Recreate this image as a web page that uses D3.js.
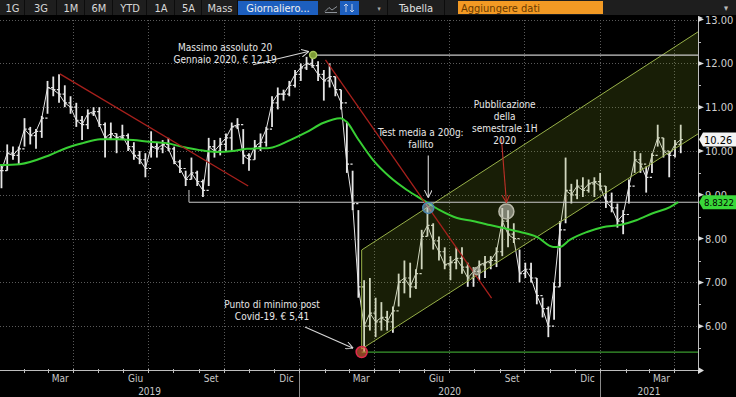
<!DOCTYPE html>
<html>
<head>
<meta charset="utf-8">
<script src="https://cdn.jsdelivr.net/npm/d3@7"></script>
<style>
  body { margin: 0; background: #000; overflow: hidden; }
  svg { display: block; font-family: "Liberation Sans Narrow", "DejaVu Sans Condensed", "Roboto Condensed", "Liberation Sans", sans-serif; }
</style>
</head>
<body>
<svg id="chart" width="736" height="397"></svg>
<script>
// weekly bars, first Friday of the series
const firstWeek = "2019-01-04";
const weekHi = [9.70, 10.15, 10.10, 10.10, 10.75, 10.55, 10.50, 10.80, 11.60, 11.70,
  11.75, 11.50, 11.25, 11.10, 10.80, 10.95, 11.00, 11.00, 10.65, 10.65,
  10.40, 10.60, 10.40, 10.20, 10.00, 9.95, 10.45, 10.20, 10.25, 10.30,
  10.10, 9.80, 9.55, 9.85, 9.55, 9.35, 10.30, 10.25, 10.30, 10.40,
  10.65, 10.75, 10.50, 9.95, 10.25, 10.40, 10.55, 11.25, 11.45, 11.40,
  11.60, 11.85, 12.00, 12.15, 12.19, 12.05, 11.85, 12.00, 11.70, 11.40,
  10.65, 9.55, 8.65, 7.05, 7.10, 6.65, 6.55, 6.35, 6.45, 7.20,
  7.50, 7.45, 7.30, 8.20, 8.72, 8.35, 8.05, 7.80, 7.60, 7.80,
  7.80, 7.45, 7.35, 7.50, 7.60, 7.60, 7.80, 8.70, 8.65, 8.35,
  7.75, 7.45, 7.45, 7.10, 6.65, 6.45, 7.00, 8.40, 9.85, 9.25,
  9.35, 9.40, 9.35, 9.40, 9.50, 9.20, 9.05, 8.80, 8.65, 9.35,
  10.00, 9.95, 9.65, 9.95, 10.60, 10.30, 10.00, 10.25, 10.60];
const weekLo = [9.15, 9.55, 9.80, 9.70, 10.10, 10.15, 10.05, 10.30, 10.85, 11.25,
  11.10, 11.00, 10.85, 10.55, 10.25, 10.50, 10.80, 10.55, 9.85, 10.25,
  9.95, 10.25, 10.00, 9.80, 9.70, 9.40, 9.85, 9.85, 9.95, 10.00,
  9.70, 9.50, 9.20, 9.35, 9.20, 8.95, 9.20, 9.85, 9.90, 10.00,
  10.00, 10.50, 9.70, 9.55, 9.80, 10.00, 10.10, 10.55, 10.95, 11.15,
  11.25, 11.45, 11.60, 11.85, 11.90, 11.60, 11.15, 11.45, 11.25, 10.95,
  9.50, 8.65, 6.65, 5.41, 5.90, 5.75, 5.90, 5.90, 5.85, 6.45,
  6.75, 6.65, 6.85, 7.30, 8.05, 7.75, 7.50, 7.30, 7.05, 7.30,
  7.20, 6.90, 6.90, 7.05, 7.10, 7.30, 7.35, 7.60, 7.80, 7.90,
  7.00, 7.10, 7.00, 6.50, 6.20, 5.75, 6.15, 6.90, 8.35, 8.80,
  8.90, 8.95, 9.05, 8.95, 9.10, 8.70, 8.60, 8.25, 8.10, 8.80,
  9.50, 9.50, 9.05, 9.50, 10.10, 9.85, 9.40, 9.85, 9.95];
const weekCl = [9.55, 9.95, 9.90, 10.05, 10.50, 10.35, 10.45, 10.75, 11.45, 11.40,
  11.30, 11.10, 11.00, 10.70, 10.60, 10.85, 10.90, 10.60, 10.30, 10.40,
  10.30, 10.35, 10.10, 9.90, 9.80, 9.60, 10.10, 10.05, 10.15, 10.05,
  9.75, 9.60, 9.35, 9.50, 9.30, 9.10, 10.10, 10.00, 10.15, 10.30,
  10.55, 10.60, 9.90, 9.80, 10.10, 10.20, 10.50, 11.10, 11.30, 11.30,
  11.50, 11.75, 11.90, 12.00, 11.95, 11.75, 11.60, 11.70, 11.40, 11.10,
  9.70, 8.80, 6.90, 6.00, 6.30, 6.10, 6.20, 6.10, 6.35, 7.00,
  7.10, 6.90, 7.20, 8.05, 8.30, 7.95, 7.70, 7.40, 7.45, 7.55,
  7.35, 7.10, 7.25, 7.40, 7.45, 7.50, 7.70, 8.40, 8.10, 8.00,
  7.20, 7.30, 7.10, 6.70, 6.40, 6.00, 6.90, 8.20, 9.10, 9.00,
  9.20, 9.10, 9.25, 9.30, 9.20, 8.85, 8.70, 8.40, 8.55, 9.20,
  9.80, 9.70, 9.40, 9.90, 10.30, 10.00, 9.90, 10.15, 10.26];

// 200 day moving average
const maDates = ["2019-01-02", "2019-01-26", "2019-03-04", "2019-03-24", "2019-04-13",
  "2019-05-04", "2019-05-24", "2019-06-13", "2019-07-03", "2019-07-24", "2019-08-13",
  "2019-09-02", "2019-09-23", "2019-10-12", "2019-10-29", "2019-11-26", "2019-12-21",
  "2020-01-10", "2020-01-30", "2020-02-20", "2020-02-28", "2020-03-11", "2020-03-31",
  "2020-04-20", "2020-05-11", "2020-05-31", "2020-06-20", "2020-07-11", "2020-07-30",
  "2020-08-20", "2020-09-05", "2020-09-26", "2020-10-16", "2020-11-05", "2020-11-13",
  "2020-11-25", "2020-12-16", "2021-01-04", "2021-01-25", "2021-02-14", "2021-03-06",
  "2021-03-27", "2021-04-06"];
const maValues = [9.68, 9.70, 9.91, 10.07, 10.18,
  10.27, 10.27, 10.25, 10.21, 10.18, 10.09,
  10.02, 9.98, 10.00, 10.05, 10.07, 10.25,
  10.43, 10.64, 10.75, 10.66, 10.32, 9.79,
  9.41, 9.11, 8.88, 8.65, 8.47, 8.40,
  8.31, 8.24, 8.15, 8.04, 7.81, 7.81,
  7.97, 8.15, 8.26, 8.31, 8.42, 8.58,
  8.72, 8.8322];

const lastPrice = 10.26;
const lastMa = 8.8322;
const priceTicks = [6, 7, 8, 9, 10, 11, 12, 13];
const quarterLabels = ["Mar", "Giu", "Set", "Dic"];
const yearLabels = ["2019", "2020", "2021"];

// drawn studies: trend lines, channel, levels
const redLines = [
  [["2019-03-16", 11.76], ["2019-10-31", 9.20]],
  [["2020-02-02", 12.08], ["2020-08-22", 6.64]],
];
const channel = { from: "2020-03-17", to: "2021-04-30", upper: [7.74, 12.72], lower: [5.48, 10.39] };
const levels = [
  { from: "2020-01-18", price: 12.19, color: "#c9c9c9" },
  { from: "2019-08-20", price: 8.83, color: "#c9c9c9" },
  { from: "2020-03-17", price: 5.41, color: "#3a9a2e" },
];
const markers = [
  { date: "2020-01-18", price: 12.19, r: 3.5, fill: "#7d9a36", stroke: "#a6c45a" },
  { date: "2020-03-17", price: 5.41, r: 5.5, fill: "rgba(230,110,60,0.6)", stroke: "#e0284c" },
  { date: "2020-06-06", price: 8.70, r: 5.5, fill: "rgba(170,200,210,0.55)", stroke: "#4a86b0" },
  { date: "2020-09-09", price: 8.62, r: 7.5, fill: "rgba(210,210,200,0.55)", stroke: "#b8b8a8" },
  { date: "2020-08-04", price: 7.26, r: 3.5, fill: "rgba(210,210,200,0.5)", stroke: "#a8a898" },
];
const notes = [
  { lines: ["Massimo assoluto 20", "Gennaio 2020, € 12,19"], date: "2019-10-03", price: 12.28,
    arrow: [["2019-11-06", 11.97], ["2020-01-12", 12.27]], arrowColor: "#d8d8d8" },
  { lines: ["Test media a 200g:", "fallito"], date: "2020-05-28", price: 10.35,
    arrow: [["2020-06-06", 9.90], ["2020-06-06", 8.95]], arrowColor: "#d8d8d8" },
  { lines: ["Pubblicazione", "della", "semestrale 1H", "2020"], date: "2020-09-07", price: 10.98,
    arrow: [["2020-09-03", 10.28], ["2020-09-09", 8.84]], arrowColor: "#c03028" },
  { lines: ["Punto di minimo post", "Covid-19. € 5,41"], date: "2019-11-29", price: 6.42,
    arrow: [["2020-01-08", 5.98], ["2020-03-06", 5.50]], arrowColor: "#d8d8d8" },
];

const toolbarLabels = ["1G", "3G", "1M", "6M", "YTD", "1A", "5A", "Mass"];

const W = 736, H = 397;
const plotRight = 698, plotTop = 20, plotBottom = 370;
const svg = d3.select("#chart");
const parse = d3.timeParse("%Y-%m-%d");

const x = d3.scaleTime()
  .domain([parse("2019-01-01"), parse("2021-04-30")])
  .range([-1, plotRight]);
const y = d3.scaleLinear().domain([5, 13]).range([plotBottom, 19.6]);

svg.append("rect").attr("width", W).attr("height", H).attr("fill", "#000");

// grid
const grid = svg.append("g").attr("stroke", "#5a5a5a").attr("stroke-dasharray", "1,2").attr("stroke-width", 1);
grid.selectAll("line.h")
  .data(priceTicks)
  .join("line")
  .attr("class", "h")
  .attr("x1", 0).attr("x2", plotRight)
  .attr("y1", (d) => Math.round(y(d)) + 0.5)
  .attr("y2", (d) => Math.round(y(d)) + 0.5);
const quarters = d3.timeMonth.every(3).range(parse("2019-04-01"), parse("2021-04-30"));
grid.selectAll("line.v")
  .data(quarters)
  .join("line")
  .attr("class", "v")
  .attr("x1", (d) => Math.round(x(d)) + 0.5)
  .attr("x2", (d) => Math.round(x(d)) + 0.5)
  .attr("y1", plotTop).attr("y2", plotBottom);

const plot = svg.append("g");

// price bars (open tick = previous close)
const weeks = d3.range(weekHi.length).map((i) => d3.timeDay.offset(parse(firstWeek), i * 7));
const bars = weeks.map((d, i) => ({
  date: d, hi: weekHi[i], lo: weekLo[i], cl: weekCl[i], op: i ? weekCl[i - 1] : weekCl[0],
}));
const barColor = "#e6e6e6";

plot.append("path")
  .datum(bars)
  .attr("fill", "none")
  .attr("stroke", barColor)
  .attr("stroke-width", 1)
  .attr("d", d3.line().x((d) => x(d.date)).y((d) => y(d.cl)));

plot.append("g")
  .attr("stroke", barColor)
  .attr("stroke-width", 1.8)
  .selectAll("line")
  .data(bars)
  .join("line")
  .attr("x1", (d) => x(d.date)).attr("x2", (d) => x(d.date))
  .attr("y1", (d) => y(d.hi)).attr("y2", (d) => y(d.lo));

plot.append("g")
  .attr("stroke", barColor)
  .attr("stroke-width", 1.2)
  .selectAll("path")
  .data(bars)
  .join("path")
  .attr("d", (d) => `M${x(d.date) - 2.2},${y(d.op)}H${x(d.date)}M${x(d.date)},${y(d.cl)}H${x(d.date) + 2.2}`);

// channel
const c0 = x(parse(channel.from)), c1 = x(parse(channel.to));
plot.append("path")
  .attr("fill", "rgba(120,150,30,0.2)")
  .attr("stroke", "none")
  .attr("d", `M${c0},${y(channel.upper[0])}L${c1},${y(channel.upper[1])}L${c1},${y(channel.lower[1])}L${c0},${y(channel.lower[0])}Z`);
plot.selectAll("line.chan")
  .data([channel.upper, channel.lower])
  .join("line")
  .attr("class", "chan")
  .attr("stroke", "#97b048")
  .attr("stroke-width", 1)
  .attr("x1", c0).attr("x2", c1)
  .attr("y1", (d) => y(d[0])).attr("y2", (d) => y(d[1]));
plot.append("line")
  .attr("stroke", "#97b048")
  .attr("x1", c0).attr("x2", c0)
  .attr("y1", y(channel.upper[0])).attr("y2", y(channel.lower[0]));

// horizontal levels
plot.selectAll("line.level")
  .data(levels)
  .join("line")
  .attr("class", "level")
  .attr("stroke", (d) => d.color)
  .attr("stroke-width", 1.2)
  .attr("x1", (d) => x(parse(d.from))).attr("x2", plotRight)
  .attr("y1", (d) => y(d.price)).attr("y2", (d) => y(d.price));
plot.append("line")
  .attr("stroke", "#c9c9c9")
  .attr("x1", x(parse(levels[1].from))).attr("x2", x(parse(levels[1].from)))
  .attr("y1", y(levels[1].price)).attr("y2", y(levels[1].price + 0.28));

// moving average
plot.append("path")
  .datum(maDates.map((d, i) => [parse(d), maValues[i]]))
  .attr("fill", "none")
  .attr("stroke", "#38cf34")
  .attr("stroke-width", 2)
  .attr("d", d3.line().curve(d3.curveMonotoneX).x((d) => x(d[0])).y((d) => y(d[1])));

// red trend lines
plot.selectAll("line.trend")
  .data(redLines)
  .join("line")
  .attr("class", "trend")
  .attr("stroke", "#a8201c")
  .attr("stroke-width", 1.3)
  .attr("x1", (d) => x(parse(d[0][0]))).attr("y1", (d) => y(d[0][1]))
  .attr("x2", (d) => x(parse(d[1][0]))).attr("y2", (d) => y(d[1][1]));

// markers
plot.selectAll("circle")
  .data(markers)
  .join("circle")
  .attr("cx", (d) => x(parse(d.date)))
  .attr("cy", (d) => y(d.price))
  .attr("r", (d) => d.r)
  .attr("fill", (d) => d.fill)
  .attr("stroke", (d) => d.stroke)
  .attr("stroke-width", 1.5);

// notes with arrows
const defs = svg.append("defs");
notes.forEach((n, k) => {
  defs.append("marker")
    .attr("id", "ah" + k)
    .attr("viewBox", "0 0 10 10")
    .attr("refX", 9).attr("refY", 5)
    .attr("markerWidth", 7).attr("markerHeight", 7)
    .attr("orient", "auto")
    .append("path")
    .attr("d", "M0,0L10,5L0,10")
    .attr("fill", "none")
    .attr("stroke", n.arrowColor)
    .attr("stroke-width", 1.3);
  plot.append("line")
    .attr("stroke", n.arrowColor)
    .attr("stroke-width", 1.1)
    .attr("x1", x(parse(n.arrow[0][0]))).attr("y1", y(n.arrow[0][1]))
    .attr("x2", x(parse(n.arrow[1][0]))).attr("y2", y(n.arrow[1][1]))
    .attr("marker-end", `url(#ah${k})`);
  const t = plot.append("text")
    .attr("x", x(parse(n.date)))
    .attr("y", y(n.price))
    .attr("text-anchor", "middle")
    .attr("fill", "#e8e8e8")
    .attr("font-size", 10);
  n.lines.forEach((l, j) => {
    t.append("tspan").attr("x", x(parse(n.date))).attr("dy", j ? 12 : 0).text(l);
  });
});

// bottom axis
const axis = svg.append("g");
axis.append("line")
  .attr("x1", 0).attr("x2", plotRight + 4)
  .attr("y1", plotBottom + 0.5).attr("y2", plotBottom + 0.5)
  .attr("stroke", "#bdbdbd");
axis.append("path")
  .attr("d", `M${plotRight},${plotBottom - 3}L${plotRight + 6},${plotBottom + 0.5}L${plotRight},${plotBottom + 4}Z`)
  .attr("fill", "#dcdcdc");
const months = d3.timeMonth.range(parse("2019-02-01"), parse("2021-04-30"));
axis.selectAll("line.mt")
  .data(months)
  .join("line")
  .attr("class", "mt")
  .attr("stroke", "#bdbdbd")
  .attr("x1", (d) => Math.round(x(d)) + 0.5).attr("x2", (d) => Math.round(x(d)) + 0.5)
  .attr("y1", plotBottom - 1).attr("y2", plotBottom + 3);
const labelMonths = months.filter((d) => d.getMonth() % 3 === 2);
axis.selectAll("text.ml")
  .data(labelMonths)
  .join("text")
  .attr("class", "ml")
  .attr("x", (d) => (x(d) + x(d3.timeMonth.offset(d, 1))) / 2)
  .attr("y", plotBottom + 12)
  .attr("text-anchor", "middle")
  .attr("fill", "#c8c8c8")
  .attr("font-size", 10)
  .text((d) => quarterLabels[(d.getMonth() - 2) / 3]);
const yearStarts = [parse("2019-01-01"), parse("2020-01-01"), parse("2021-01-01")];
axis.selectAll("line.ys")
  .data(yearStarts.slice(1))
  .join("line")
  .attr("class", "ys")
  .attr("stroke", "#8a8a8a")
  .attr("x1", (d) => Math.round(x(d)) + 0.5).attr("x2", (d) => Math.round(x(d)) + 0.5)
  .attr("y1", plotBottom + 3).attr("y2", H);
axis.selectAll("text.yl")
  .data(yearStarts)
  .join("text")
  .attr("class", "yl")
  .attr("x", (d) => (Math.max(0, x(d)) + Math.min(plotRight, x(d3.timeYear.offset(d, 1)))) / 2)
  .attr("y", plotBottom + 25)
  .attr("text-anchor", "middle")
  .attr("fill", "#c8c8c8")
  .attr("font-size", 10)
  .text((d, i) => yearLabels[i]);

// right axis
const ra = svg.append("g");
ra.append("line")
  .attr("x1", plotRight + 0.5).attr("x2", plotRight + 0.5)
  .attr("y1", plotTop - 4).attr("y2", plotBottom)
  .attr("stroke", "#bdbdbd");
ra.append("path")
  .attr("d", `M${plotRight + 0.5},${plotTop - 4}L${plotRight + 5},${plotTop - 2}L${plotRight + 0.5},${plotTop}`)
  .attr("fill", "#dcdcdc");
ra.selectAll("line.minor")
  .data(d3.range(5.5, 13, 1))
  .join("line")
  .attr("class", "minor")
  .attr("stroke", "#bdbdbd")
  .attr("x1", plotRight).attr("x2", plotRight + 3)
  .attr("y1", (d) => Math.round(y(d)) + 0.5).attr("y2", (d) => Math.round(y(d)) + 0.5);
ra.selectAll("path.major")
  .data(priceTicks)
  .join("path")
  .attr("class", "major")
  .attr("fill", "#dcdcdc")
  .attr("d", (d) => `M${plotRight},${y(d) - 2.5}L${plotRight + 6},${y(d)}L${plotRight},${y(d) + 2.5}Z`);
ra.selectAll("text")
  .data(priceTicks)
  .join("text")
  .attr("x", plotRight + 7)
  .attr("y", (d) => y(d) + 4)
  .attr("fill", "#d0d0d0")
  .attr("font-size", 11)
  .text((d) => d.toFixed(2));

function priceTag(v, bg, label, size) {
  const yy = y(v);
  ra.append("path")
    .attr("d", `M${plotRight + 1},${yy}L${plotRight + 5},${yy - 7}L${W},${yy - 7}L${W},${yy + 7}L${plotRight + 5},${yy + 7}Z`)
    .attr("fill", bg);
  ra.append("text")
    .attr("x", plotRight + 6)
    .attr("y", yy + 4)
    .attr("fill", "#000")
    .attr("font-size", size)
    .text(label);
}
priceTag(lastPrice, "#f4f4f4", lastPrice.toFixed(2), 11);
priceTag(lastMa, "#39d839", lastMa.toFixed(4), 9.5);

// toolbar
const tb = svg.append("g");
tb.append("rect").attr("width", W).attr("height", 15).attr("fill", "#1e1e1e");
const btnEdges = [0, 25, 57, 85, 113, 147, 175, 202, 238];
toolbarLabels.forEach((l, i) => {
  tb.append("rect")
    .attr("x", btnEdges[i + 1] - 1).attr("y", 0).attr("width", 1).attr("height", 15)
    .attr("fill", "#0c0c0c");
  tb.append("text")
    .attr("x", (btnEdges[i] + btnEdges[i + 1]) / 2).attr("y", 11.5)
    .attr("text-anchor", "middle")
    .attr("fill", "#d8d8d8")
    .attr("font-size", 11)
    .text(l);
});
tb.append("rect").attr("x", 238).attr("y", 1).attr("width", 80).attr("height", 14).attr("fill", "#1d5fbf");
tb.append("text").attr("x", 278).attr("y", 11.5).attr("text-anchor", "middle")
  .attr("fill", "#f0f0f0").attr("font-size", 11).text("Giornaliero...");
tb.append("path").attr("d", "M325,11.5L329,7.5L332,10L337,6.5M325,12.5L337,12.5")
  .attr("fill", "none").attr("stroke", "#9aa0a8").attr("stroke-width", 0.9);
tb.append("rect").attr("x", 340).attr("y", 1).attr("width", 19).attr("height", 14).attr("fill", "#1d5fbf");
tb.append("path").attr("d", "M346,4L346,12M344,6L346,4L348,6M352,4L352,12M350,10L352,12L354,10")
  .attr("fill", "none").attr("stroke", "#cfd8ea").attr("stroke-width", 0.9);
tb.append("text").attr("x", 379).attr("y", 10.5).attr("text-anchor", "middle")
  .attr("fill", "#aaa").attr("font-size", 7).text("▾");
tb.append("rect").attr("x", 387).attr("y", 0).attr("width", 1).attr("height", 15).attr("fill", "#0c0c0c");
tb.append("text").attr("x", 416).attr("y", 11.5).attr("text-anchor", "middle")
  .attr("fill", "#e0e0e0").attr("font-size", 11).text("Tabella");
tb.append("rect").attr("x", 444).attr("y", 0).attr("width", 1).attr("height", 15).attr("fill", "#0c0c0c");
tb.append("rect").attr("x", 458).attr("y", 1).attr("width", 145).attr("height", 13).attr("fill", "#f39a24");
tb.append("text").attr("x", 461).attr("y", 11.5)
  .attr("fill", "#6b3a00").attr("font-size", 11).text("Aggiungere dati");
tb.append("text").attr("x", 726).attr("y", 11).attr("text-anchor", "middle")
  .attr("fill", "#bbb").attr("font-size", 9).text("▾");
</script>
</body>
</html>
